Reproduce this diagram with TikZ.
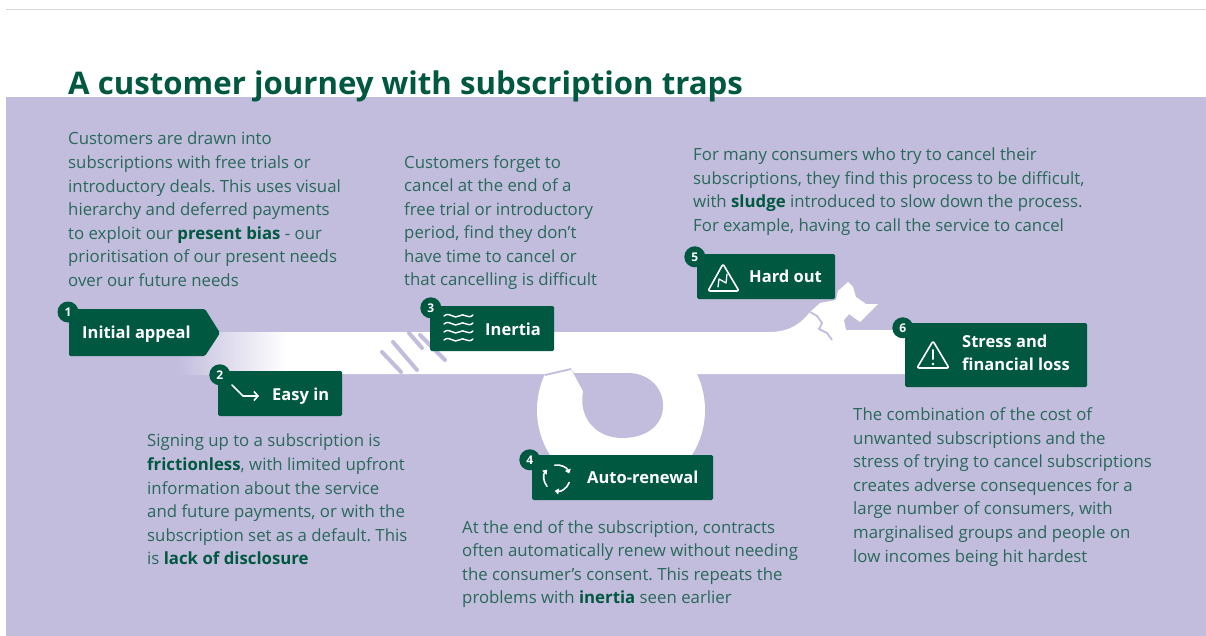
\documentclass[tikz,border=0pt]{standalone}
\usepackage{fontspec}
\setmainfont{Open Sans}
\usetikzlibrary{arrows.meta}

\definecolor{lilac}{RGB}{194,188,221}
\definecolor{pine}{RGB}{0,88,64}
\definecolor{bodytext}{RGB}{40,105,90}
\definecolor{hairline}{RGB}{216,216,216}

\newcommand{\keyword}[1]{\textbf{\color{pine}#1}}
\frenchspacing

\tikzset{
  stepbox/.style={fill=pine, rounded corners=1.5pt, inner sep=0pt},
  badge/.style={circle, fill=pine, text=white, inner sep=0pt, minimum size=21pt,
    font=\bfseries\fontsize{12}{12}\selectfont},
  steplabel/.style={text=white, inner sep=0pt, anchor=base west,
    font=\bfseries\fontsize{16.5}{24}\selectfont},
  blurb/.style={text=bodytext, inner sep=0pt, anchor=north west, align=left,
    font=\fontsize{16.8}{23.55}\selectfont, execute at begin node=\rule{0pt}{14pt}},
  icon/.style={white, line width=1.6pt, line cap=round, line join=round},
  speed/.style={lilac, line width=4pt, line cap=round},
}

\begin{document}
\begin{tikzpicture}[x=1pt, y=-1pt]
  \useasboundingbox (0,0) rectangle (1206,636);
  \fill[white] (0,0) rectangle (1206,636);
  \draw[hairline, line width=1pt] (6,10) -- (1206,10);
  \fill[lilac] (6,97) rectangle (1206,636);

  \node[anchor=base west, inner sep=0pt, text=pine, font=\bfseries\fontsize{31.2}{31.2}\selectfont]
    (title) at (68,95) {A customer journey with subscription traps};

  % the road
  \shade[left color=lilac, right color=white] (176,332) rectangle (286,374);
  \fill[white] (285,332) -- (772,332) .. controls (792,331) and (802,322) .. (810,312)
    -- (820,303) -- (836,300) -- (838,291) -- (848,282) -- (853,287) -- (856,297)
    -- (866,304) -- (878,304) -- (860,322) -- (849,314) -- (844,320) -- (846,330)
    -- (910,330) -- (910,374) -- (285,374) -- cycle;
  \draw[lilac, line width=1.8pt] (810,312) -- (817,316) -- (822,323) -- (819,329)
    -- (827,333) -- (832,340);
  \draw[speed] (382,352) -- (401,372);
  \draw[speed] (393,342) -- (417,370);
  \draw[speed] (409,333) -- (422,348);
  \draw[speed] (420,335) -- (445,360);

  % the loop
  \begin{scope}
    \clip (520,350) rectangle (720,500);
    \fill[white] (621,410) circle[radius=84];
  \end{scope}
  \fill[lilac] (571,369) -- (583,391) .. controls (578,420) and (598,438) .. (622,438)
    .. controls (648,438) and (663,424) .. (663,406)
    .. controls (663,386) and (647,373) .. (628,373) -- (574,373) -- cycle;
  \draw[lilac, line width=1.8pt] (545,375) -- (571,369);

  % 1
  \fill[pine, rounded corners=1.5pt] (69,309) -- (205,309) -- (220,333) -- (205,356)
    -- (69,356) -- cycle;
  \coordinate (appeal) at (69,309);
  \node[badge] at ([shift={(-1,3)}]appeal) {1};
  \node[steplabel] (appeallabel) at (82,338) {Initial appeal};

  % 2
  \node[stepbox, minimum width=124pt, minimum height=45pt] (easy) at (280,393.5) {};
  \node[badge] at ([shift={(2,4)}]easy.north west) {2};
  \draw[icon, -{Straight Barb[length=4pt,width=9pt]}] (232,385) -- (243,396) -- (259,396);
  \node[steplabel] (easylabel) at (272,400) {Easy in};

  % 3
  \node[stepbox, minimum width=124pt, minimum height=45pt] (inertia) at (492,328.5) {};
  \node[badge] at ([shift={(1,2)}]inertia.north west) {3};
  \foreach \y in {316,324,332,340}
    \draw[icon, line width=1.4pt] (444,\y) .. controls (450,\y-5) and (454,\y+4) .. (459,\y)
      .. controls (464,\y-4) and (468,\y+4) .. (473,\y-1);
  \node[steplabel] (inertialabel) at (485,335) {Inertia};

  % 4
  \node[stepbox, minimum width=181pt, minimum height=45pt] (renew) at (622.5,477.5) {};
  \node[badge] at ([shift={(-2,5)}]renew.north west) {4};
  \foreach \a in {20,140,260}
    \draw[icon, -{Triangle[length=4pt,width=6pt]}] (557,478) ++(\a:13)
      arc[start angle=\a, end angle=\a+80, radius=13];
  \node[steplabel] (renewlabel) at (587,483) {Auto-renewal};

  % 5
  \node[stepbox, minimum width=138pt, minimum height=45pt] (hardout) at (766,276.5) {};
  \node[badge] at ([shift={(-2,3)}]hardout.north west) {5};
  \draw[icon, rounded corners=2pt] (708,291) -- (723,264) -- (739,291) -- cycle;
  \draw[icon, line width=1.3pt] (718,287) -- (719,279) -- (726,283) -- (727,274);
  \node[steplabel] (hardoutlabel) at (749,282.7) {Hard out};

  % 6
  \node[stepbox, minimum width=182pt, minimum height=64pt] (stress) at (996,355) {};
  \node[badge] at ([shift={(-2,5)}]stress.north west) {6};
  \draw[icon, rounded corners=2pt] (917,368) -- (933,341) -- (949,368) -- cycle;
  \draw[icon, line width=2pt] (933,350) -- (933,359);
  \fill[white] (933,364) circle[radius=1.3];
  \node[steplabel] (stresslabel) at (962,347) {Stress and};
  \node[steplabel] (losslabel) at (962,370.7) {financial loss};

  % texts
  \node[blurb] (appealtext) at (68,132) {Customers are drawn into\\
    subscriptions with free trials or\\
    introductory deals. This uses visual\\
    hierarchy and deferred payments\\
    to exploit our \keyword{present bias} - our\\
    prioritisation of our present needs\\
    over our future needs};
  \node[blurb] (inertiatext) at (404,155) {Customers forget to\\
    cancel at the end of a\\
    free trial or introductory\\
    period, find they don’t\\
    have time to cancel or\\
    that cancelling is difficult};
  \node[blurb] (hardouttext) at (693,147.7) {For many consumers who try to cancel their\\
    subscriptions, they find this process to be difficult,\\
    with \keyword{sludge} introduced to slow down the process.\\
    For example, having to call the service to cancel};
  \node[blurb] (easytext) at (147,434) {Signing up to a subscription is\\
    \keyword{frictionless}, with limited upfront\\
    information about the service\\
    and future payments, or with the\\
    subscription set as a default. This\\
    is \keyword{lack of disclosure}};
  \node[blurb] (renewtext) at (462,520) {At the end of the subscription, contracts\\
    often automatically renew without needing\\
    the consumer’s consent. This repeats the\\
    problems with \keyword{inertia} seen earlier};
  \node[blurb] (stresstext) at (853,407.7) {The combination of the cost of\\
    unwanted subscriptions and the\\
    stress of trying to cancel subscriptions\\
    creates adverse consequences for a\\
    large number of consumers, with\\
    marginalised groups and people on\\
    low incomes being hit hardest};
\end{tikzpicture}
\end{document}
